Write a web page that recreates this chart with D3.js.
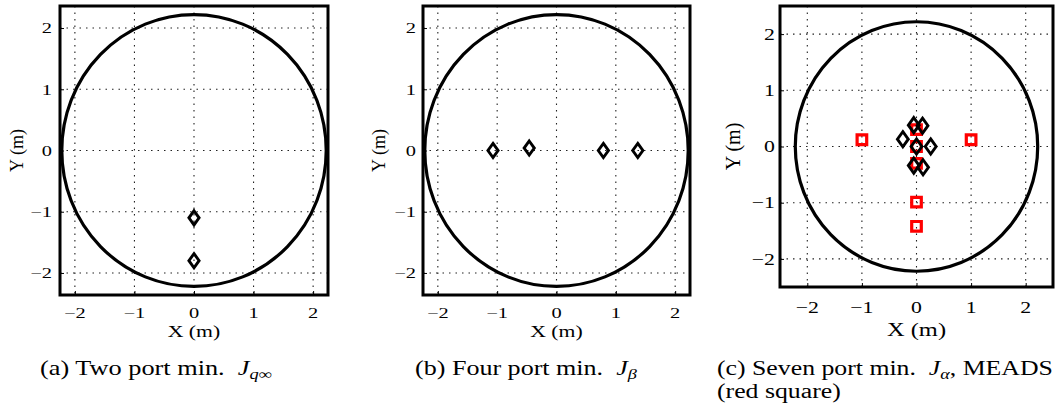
<!DOCTYPE html>
<html>
<head>
<meta charset="utf-8">
<script src="https://cdn.jsdelivr.net/npm/d3@7"></script>
<style>
  body { margin: 0; background: #fff; }
  svg { display: block; }
  text { font-family: "Liberation Serif", "DejaVu Serif", serif; fill: #000; white-space: pre; }
</style>
</head>
<body>
<div id="chart"></div>
<script>
const width = 1057;
const height = 406;

// data (metres)
const tickVals = [-2, -1, 0, 1, 2];
const circleR = 2.22;

const twoPortX = [0, 0];
const twoPortY = [-1.1, -1.8];

const fourPortX = [-1.07, -0.46, 0.79, 1.37];
const fourPortY = [0, 0.04, 0, 0];

const sevenPortX = [-0.05, 0.11, -0.25, 0, 0.26, -0.05, 0.12];
const sevenPortY = [0.38, 0.37, 0.13, 0, 0, -0.34, -0.37];

const meadsX = [-1, 1, 0, 0, 0, 0, 0];
const meadsY = [0.12, 0.12, 0.3, 0, -0.3, -0.99, -1.42];

// the source figure is stretched sideways, so is its text
const stretch = 1.36;

const svg = d3.select("#chart").append("svg")
  .attr("width", width)
  .attr("height", height);

// tall diamond, like the matlab 'd' marker
const tallDiamond = {
  draw: function(ctx, size) {
    const r = 0.72;
    const hh = Math.sqrt(size / (2 * r)), hw = hh * r;
    ctx.moveTo(0, -hh);
    ctx.lineTo(hw, 0);
    ctx.lineTo(0, hh);
    ctx.lineTo(-hw, 0);
    ctx.closePath();
  }
};

function label(sel, x, y, sx) {
  return sel.attr("transform", "translate(" + x + "," + y + ") scale(" + sx + ",1)");
}

const panels = [
  {box: [60, 328, 6, 295], xd: [-2.25, 2.25], yd: [-2.36, 2.36], fs: 15, lfs: 16,
   ytx: 52, ylx: 17, xty: 318, xly: 337, dsize: 72,
   diamonds: [twoPortX, twoPortY], squares: null},
  {box: [423, 690, 6, 295], xd: [-2.25, 2.25], yd: [-2.36, 2.36], fs: 15, lfs: 16,
   ytx: 416, ylx: 379, xty: 318, xly: 337, dsize: 72,
   diamonds: [fourPortX, fourPortY], squares: null},
  {box: [780, 1053, 6, 287], xd: [-2.5, 2.5], yd: [-2.5, 2.5], fs: 16, lfs: 18,
   ytx: 775, ylx: 733, xty: 313, xly: 336, dsize: 82,
   diamonds: [sevenPortX, sevenPortY], squares: [meadsX, meadsY]}
];

panels.forEach(function(p) {
  const x = d3.scaleLinear().domain(p.xd).range([p.box[0], p.box[1]]);
  const y = d3.scaleLinear().domain(p.yd).range([p.box[3], p.box[2]]);
  const g = svg.append("g");

  // dotted grid
  g.selectAll(".gx").data(tickVals).enter().append("line")
    .attr("x1", d => x(d)).attr("x2", d => x(d))
    .attr("y1", p.box[2]).attr("y2", p.box[3])
    .attr("stroke", "#222").attr("stroke-width", 1.1)
    .attr("stroke-dasharray", "1.5,5");
  g.selectAll(".gy").data(tickVals).enter().append("line")
    .attr("y1", d => y(d)).attr("y2", d => y(d))
    .attr("x1", p.box[0]).attr("x2", p.box[1])
    .attr("stroke", "#222").attr("stroke-width", 1.1)
    .attr("stroke-dasharray", "1.5,5");

  // inward ticks
  const xAxis = g.append("g").attr("transform", "translate(0," + p.box[3] + ")")
    .call(d3.axisTop(x).tickValues(tickVals).tickSize(4).tickFormat(""));
  const yAxis = g.append("g").attr("transform", "translate(" + p.box[0] + ",0)")
    .call(d3.axisRight(y).tickValues(tickVals).tickSize(4).tickFormat(""));
  [xAxis, yAxis].forEach(a => a.select(".domain").remove());

  // tick labels
  g.selectAll(".xt").data(tickVals).enter().append("text")
    .each(function(d) { label(d3.select(this), x(d), p.xty, stretch); })
    .attr("text-anchor", "middle")
    .style("font-size", p.fs + "px")
    .text(d => d3.format("d")(d));
  g.selectAll(".yt").data(tickVals).enter().append("text")
    .each(function(d) { label(d3.select(this), p.ytx, y(d), stretch); })
    .attr("dy", "0.35em")
    .attr("text-anchor", "end")
    .style("font-size", p.fs + "px")
    .text(d => d3.format("d")(d));

  label(g.append("text"), (p.box[0] + p.box[1]) / 2, p.xly, stretch)
    .attr("text-anchor", "middle")
    .style("font-size", p.lfs + "px")
    .text("X (m)");
  g.append("text")
    .attr("transform", "translate(" + p.ylx + "," + y(0) + ") rotate(-90)")
    .attr("dy", "0.35em")
    .attr("text-anchor", "middle")
    .style("font-size", (p.lfs + 2) + "px")
    .text("Y (m)");

  // boundary circle
  g.append("ellipse")
    .attr("cx", x(0)).attr("cy", y(0))
    .attr("rx", x(circleR) - x(0)).attr("ry", y(0) - y(circleR))
    .attr("fill", "none").attr("stroke", "#000").attr("stroke-width", 3.2);

  // MEADS squares (red)
  if (p.squares) {
    const sq = d3.range(p.squares[0].length);
    g.selectAll(".sq").data(sq).enter().append("path")
      .attr("d", d3.symbol().type(d3.symbolSquare).size(92))
      .attr("transform", i => "translate(" + x(p.squares[0][i]) + "," + y(p.squares[1][i]) + ")")
      .attr("fill", "none").attr("stroke", "#ff0000").attr("stroke-width", 3.2);
  }

  // port diamonds
  const dm = d3.range(p.diamonds[0].length);
  g.selectAll(".dm").data(dm).enter().append("path")
    .attr("d", d3.symbol().type(tallDiamond).size(p.dsize))
    .attr("transform", i => "translate(" + x(p.diamonds[0][i]) + "," + y(p.diamonds[1][i]) + ")")
    .attr("fill", "none").attr("stroke", "#000").attr("stroke-width", 2.9);

  // box
  g.append("rect")
    .attr("x", p.box[0]).attr("y", p.box[2])
    .attr("width", p.box[1] - p.box[0]).attr("height", p.box[3] - p.box[2])
    .attr("fill", "none").attr("stroke", "#000").attr("stroke-width", 3);
});

// sub-captions, squeezed to the width they take in the figure
const capSize = 20;
function caption(xPos, yPos, fitW, pre, sub, post) {
  const t = svg.append("text").style("font-size", capSize + "px");
  t.append("tspan").text(pre);
  t.append("tspan").style("font-style", "italic").text("J");
  t.append("tspan").attr("dy", 4).style("font-size", (capSize * 0.7) + "px")
    .style("font-style", "italic").text(sub);
  t.append("tspan").attr("dy", -4).text(post);
  const sx = fitW / t.node().getBBox().width;
  label(t, xPos, yPos, sx);
  return sx;
}
caption(40, 375, 232, "(a) Two port min.  ", "q∞", "");
caption(415, 375, 222, "(b) Four port min.  ", "β", "");
const sxc = caption(717, 375, 336, "(c) Seven port min.  ", "α", ", MEADS");
label(svg.append("text"), 717, 398, sxc)
  .style("font-size", capSize + "px").text("(red square)");
</script>
</body>
</html>
